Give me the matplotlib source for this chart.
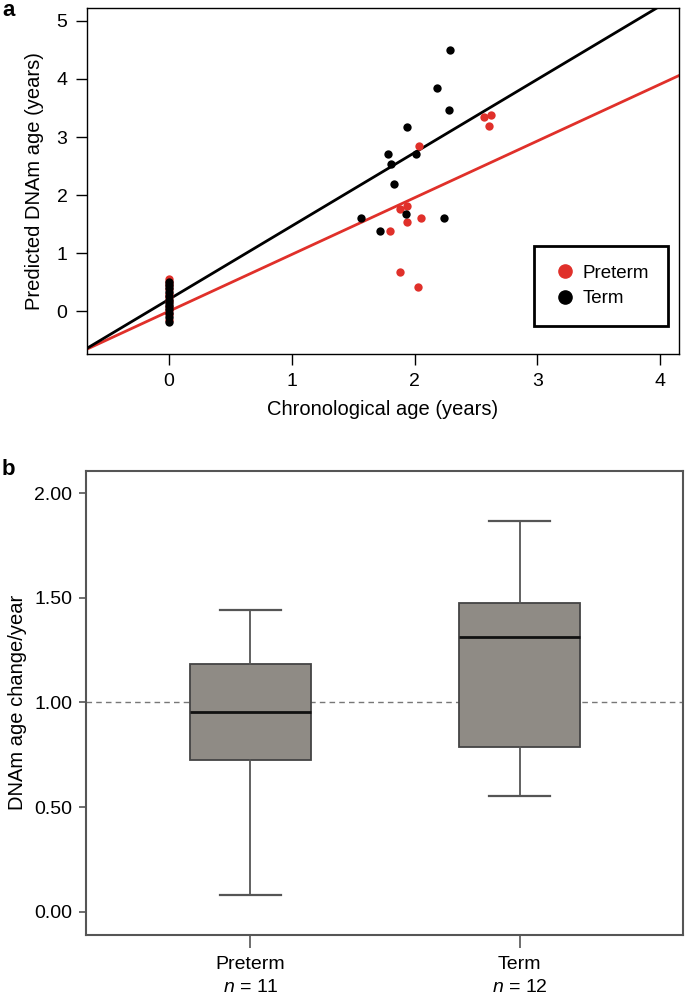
"""
Two-panel figure: predicted DNAm age vs chronological age (a) and
DNAm age change per year by group (b).
"""
import numpy as np
import matplotlib
matplotlib.use("Agg")
import matplotlib.pyplot as plt
from matplotlib.lines import Line2D

plt.rcParams["font.family"] = ["Liberation Sans", "DejaVu Sans"]
plt.rcParams["mathtext.fontset"] = "custom"
plt.rcParams["mathtext.it"] = "Liberation Sans:italic"
plt.rcParams["mathtext.rm"] = "Liberation Sans"

RED = "#E0302A"
BLACK = "#000000"

# ---- panel a data ----
preterm_x = [0.0] * 11 + [2.57, 2.62, 2.61, 2.04, 1.88, 1.94, 1.94, 2.05, 1.80, 1.88, 2.03]
preterm_y = [-0.15, -0.05, 0.02, 0.10, 0.18, 0.25, 0.30, 0.38, 0.45, 0.50, 0.55,
             3.34, 3.38, 3.19, 2.85, 1.76, 1.82, 1.54, 1.60, 1.39, 0.68, 0.42]
term_x = [0.0] * 12 + [2.29, 2.18, 2.28, 1.94, 1.78, 1.81, 2.01, 1.83, 1.93, 1.56, 1.72, 2.24]
term_y = [-0.18, -0.10, -0.02, 0.05, 0.10, 0.15, 0.20, 0.27, 0.33, 0.40, 0.46, 0.50,
          4.50, 3.85, 3.46, 3.17, 2.70, 2.54, 2.71, 2.20, 1.68, 1.60, 1.39, 1.60]
# fitted lines: (intercept, slope)
fit_preterm = (0.005, 0.975)
fit_term = (0.21, 1.26)

# ---- panel b data: box stats ----
groups = ["Preterm", "Term"]
group_n = [11, 12]
whislo = [0.080, 0.554]
q1 = [0.723, 0.785]
med = [0.953, 1.313]
q3 = [1.185, 1.476]
whishi = [1.444, 1.868]

fig = plt.figure(figsize=(6.85, 9.94), dpi=100)

# ---------------- panel a ----------------
ax = fig.add_axes([0.127, 0.644, 0.864, 0.348])
ax.scatter(preterm_x, preterm_y, s=36, color=RED, zorder=3, linewidths=0)
ax.scatter(term_x, term_y, s=36, color=BLACK, zorder=4, linewidths=0)
ax.axline((0, fit_preterm[0]), slope=fit_preterm[1], color=RED, lw=2.0, zorder=2)
ax.axline((0, fit_term[0]), slope=fit_term[1], color=BLACK, lw=2.0, zorder=2)
ax.set_xlim(-0.67, 4.155)
ax.set_ylim(-0.73, 5.22)
ax.set_xticks([0, 1, 2, 3, 4])
ax.set_yticks([0, 1, 2, 3, 4, 5])
ax.tick_params(labelsize=14, length=8, width=1.0, pad=6)
for sp in ax.spines.values():
    sp.set_linewidth(1.0)
ax.set_xlabel("Chronological age (years)", fontsize=14.5, labelpad=7)
ax.set_ylabel("Predicted DNAm age (years)", fontsize=14.5, labelpad=9)

handles = [Line2D([], [], marker="o", ls="", color=RED, markersize=9.5),
           Line2D([], [], marker="o", ls="", color=BLACK, markersize=9.5)]
leg = ax.legend(handles, ["Preterm", "Term"], loc="lower right",
                bbox_to_anchor=(0.981, 0.081), fontsize=13.5, fancybox=False,
                framealpha=1, edgecolor="black", borderpad=1.0,
                handletextpad=0.3, labelspacing=0.45, handlelength=1.3,
                borderaxespad=0)
leg.get_frame().set_linewidth(2.0)

fig.text(0.003, 0.984, "a", fontsize=16, fontweight="bold", va="baseline", ha="left")

# ---------------- panel b ----------------
bx = fig.add_axes([0.126, 0.0594, 0.871, 0.4671])
stats = []
for i, g in enumerate(groups):
    stats.append({"label": g, "whislo": whislo[i], "q1": q1[i], "med": med[i],
                  "q3": q3[i], "whishi": whishi[i], "fliers": []})
bx.axhline(1.0, color="#777777", lw=1.0, ls=(0, (4, 3)), zorder=1)
bx.bxp(stats, positions=[1, 2], widths=0.45, patch_artist=True, showfliers=False,
       boxprops=dict(facecolor="#8F8B85", edgecolor="#444444", linewidth=1.3),
       medianprops=dict(color="#111111", linewidth=2.0),
       whiskerprops=dict(color="#555555", linewidth=1.3),
       capprops=dict(color="#555555", linewidth=1.6), capwidths=0.225,
       zorder=2)
bx.set_xlim(0.39, 2.607)
bx.set_ylim(-0.111, 2.108)
bx.set_yticks([0, 0.5, 1.0, 1.5, 2.0])
bx.set_yticklabels(["0.00", "0.50", "1.00", "1.50", "2.00"])
bx.set_xticks([1, 2])
bx.set_xticklabels([f"{g}\n$n$ = {n}" for g, n in zip(groups, group_n)],
                   linespacing=1.45)
bx.tick_params(axis="y", labelsize=14, length=5, width=1.2, color="#555555", pad=5)
bx.tick_params(axis="x", labelsize=14, length=9, width=1.2, color="#555555", pad=6)
for sp in bx.spines.values():
    sp.set_linewidth(1.5)
    sp.set_color("#555555")
bx.set_ylabel("DNAm age change/year", fontsize=14.5, labelpad=5)

fig.text(0.003, 0.522, "b", fontsize=16, fontweight="bold", va="baseline", ha="left")

fig.savefig("out.png", dpi=100)
